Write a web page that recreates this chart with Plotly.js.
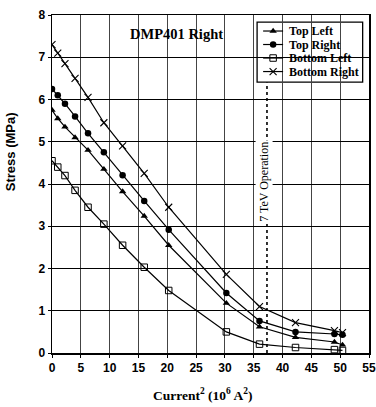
<!DOCTYPE html>
<html>
<head>
<meta charset="utf-8">
<script src="https://cdn.plot.ly/plotly-3.0.1.min.js"></script>
<style>
html,body{margin:0;padding:0;background:#fff;}
#chart{width:376px;height:407px;}
</style>
</head>
<body>
<div id="chart"></div>
<script>
// Current^2 (10^6 A^2)
const current2 = [0, 1, 2.25, 4, 6.25, 9, 12.25, 16, 20.25, 30.25, 36, 42.25, 49, 50.4];
// Stress (MPa)
const topLeft     = [5.75, 5.55, 5.35, 5.1, 4.8, 4.35, 3.82, 3.24, 2.55, 1.18, 0.62, 0.37, 0.26, 0.19];
const topRight    = [6.25, 6.1, 5.9, 5.6, 5.2, 4.75, 4.21, 3.6, 2.92, 1.42, 0.76, 0.5, 0.45, 0.43];
const bottomLeft  = [4.55, 4.4, 4.2, 3.85, 3.45, 3.05, 2.55, 2.03, 1.48, 0.5, 0.21, 0.13, 0.08, 0.06];
const bottomRight = [7.3, 7.1, 6.85, 6.5, 6.05, 5.45, 4.9, 4.25, 3.45, 1.86, 1.1, 0.72, 0.53, 0.48];
const seriesNames = ["Top Left", "Top Right", "Bottom Left", "Bottom Right"];
const operationX = 37.3;
const operationTop = 6.4;
const operationLabel = "7 TeV Operation";
const chartTitle = "DMP401 Right";

const serif = "Liberation Serif, Times New Roman, serif";
const sans = "Liberation Sans, Arial, sans-serif";
const line = {color: "#000", width: 1.2};
const markers = [
  {symbol: "triangle-up", size: 6.5, color: "#000"},
  {symbol: "circle", size: 6.5, color: "#000"},
  {symbol: "square-open", size: 6.5, color: "#000", line: {width: 1, color: "#000"}},
  {symbol: "x-thin-open", size: 7, color: "#000", line: {width: 1.1, color: "#000"}}
];
const seriesData = [topLeft, topRight, bottomLeft, bottomRight];

const traces = seriesData.map((ys, i) => ({
  x: current2, y: ys, name: seriesNames[i], mode: "lines+markers",
  line: line, marker: markers[i], showlegend: false
}));
traces.push({x: [operationX, operationX], y: [0, operationTop], mode: "lines", showlegend: false,
  line: {color: "#000", width: 1.6, dash: "dot"}, hoverinfo: "skip"});

// Custom compact legend (overlay axes spanning the plot area, range 0..1)
const legX0 = 0.647, legX1 = 0.980, legY0 = 0.8016, legY1 = 0.979;
const rowY = [0.9526, 0.9127, 0.8727, 0.8327];
const sampleX = [0.666, 0.729];
const textX = 0.742;
const annotations = [];
seriesNames.forEach((nm, i) => {
  traces.push({x: sampleX, y: [rowY[i], rowY[i]], xaxis: "x2", yaxis: "y2", mode: "lines",
    line: {color: "#000", width: 1.2}, showlegend: false, hoverinfo: "skip"});
  traces.push({x: [(sampleX[0] + sampleX[1]) / 2], y: [rowY[i]], xaxis: "x2", yaxis: "y2", mode: "markers",
    marker: markers[i], showlegend: false, hoverinfo: "skip"});
  annotations.push({text: nm, xref: "paper", yref: "paper", x: textX, y: rowY[i],
    xanchor: "left", yanchor: "middle", showarrow: false,
    font: {family: serif, size: 12, color: "#000", weight: "bold"}});
});

const tickFont = {family: sans, size: 12, color: "#000", weight: "bold"};
const layout = {
  width: 376, height: 407,
  margin: {l: 52, r: 7, t: 15, b: 54},
  paper_bgcolor: "#fff", plot_bgcolor: "#fff",
  showlegend: false,
  xaxis: {
    range: [0, 55], dtick: 5, tick0: 0,
    showgrid: true, gridcolor: "#444", gridwidth: 1,
    zeroline: false, showline: true, linecolor: "#000", linewidth: 1.5, mirror: true,
    ticks: "outside", ticklen: 3, tickcolor: "#000",
    tickfont: tickFont
  },
  yaxis: {
    range: [0, 8], dtick: 1, tick0: 0,
    showgrid: true, gridcolor: "#000", gridwidth: 1,
    zeroline: false, showline: true, linecolor: "#000", linewidth: 1.5, mirror: true,
    ticks: "outside", ticklen: 3, tickcolor: "#000",
    tickfont: tickFont
  },
  xaxis2: {overlaying: "x", anchor: "y2", range: [0, 1], visible: false, fixedrange: true},
  yaxis2: {overlaying: "y", anchor: "x2", range: [0, 1], visible: false, fixedrange: true},
  shapes: [
    {type: "rect", xref: "paper", yref: "paper", x0: legX0, x1: legX1, y0: legY0, y1: legY1,
     fillcolor: "#fff", line: {color: "#000", width: 1.3}, layer: "between"}
  ],
  annotations: annotations.concat([
    {text: chartTitle, xref: "paper", yref: "paper", x: 0.393, y: 1, yshift: -19,
     showarrow: false, xanchor: "center", yanchor: "middle",
     font: {family: serif, size: 14.5, color: "#000", weight: "bold"}},
    {text: operationLabel, xref: "x", yref: "y", x: operationX, y: 4.05, xshift: -3,
     textangle: -90, showarrow: false, bgcolor: "#fff",
     font: {family: serif, size: 12, color: "#000"}},
    {text: "Stress (MPa)", xref: "paper", yref: "paper", x: 0, y: 0.594, xshift: -42,
     textangle: -90, showarrow: false, xanchor: "center", yanchor: "middle",
     font: {family: sans, size: 13, color: "#000", weight: "bold"}},
    {text: "Current<sup>2</sup> (10<sup>6</sup> A<sup>2</sup>)", xref: "paper", yref: "paper", x: 0.475, y: 0, yshift: -41,
     showarrow: false, xanchor: "center", yanchor: "middle",
     font: {family: serif, size: 13.5, color: "#000", weight: "bold"}}
  ])
};

Plotly.newPlot("chart", traces, layout, {displayModeBar: false, staticPlot: true});
</script>
</body>
</html>
